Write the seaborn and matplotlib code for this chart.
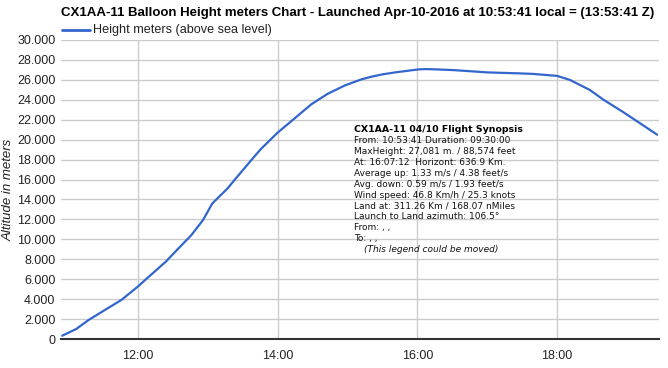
import matplotlib
matplotlib.use("Agg")
import matplotlib.pyplot as plt
import seaborn as sns
import pandas as pd
from matplotlib.ticker import FuncFormatter, FixedLocator

# ---- data ----
times = ["10:55", "11:07", "11:18", "11:32", "11:46", "12:00", "12:07", "12:16",
         "12:24", "12:35", "12:46", "12:56", "13:04", "13:17", "13:23", "13:40",
         "13:46", "14:00", "14:14", "14:29", "14:43", "14:58", "15:12", "15:20",
         "15:30", "15:41", "16:01", "16:07", "16:12", "16:31", "17:00", "17:28",
         "17:39", "18:00", "18:11", "18:28", "18:40", "18:56", "19:11", "19:26"]
heights = [330, 1000, 1930, 2930, 3930, 5260, 6000, 6930,
           7760, 9100, 10430, 11940, 13610, 15100, 15950, 18300,
           19100, 20700, 22070, 23550, 24600, 25450, 26050, 26300,
           26550, 26750, 27050, 27081, 27070, 26980, 26750, 26650,
           26600, 26400, 26000, 25000, 24000, 22830, 21670, 20500]
x_ticks = ["12:00", "14:00", "16:00", "18:00"]
y_ticks = list(range(0, 30001, 2000))
title = "CX1AA-11 Balloon Height meters Chart - Launched Apr-10-2016 at 10:53:41 local = (13:53:41 Z)"
series_name = "Height meters (above sea level)"
y_label = "Altitude in meters"
synopsis_title = "CX1AA-11 04/10 Flight Synopsis"
synopsis_lines = [
    "From: 10:53:41 Duration: 09:30:00",
    "MaxHeight: 27,081 m. / 88,574 feet",
    "At: 16:07:12  Horizont: 636.9 Km.",
    "Average up: 1.33 m/s / 4.38 feet/s",
    "Avg. down: 0.59 m/s / 1.93 feet/s",
    "Wind speed: 46.8 Km/h / 25.3 knots",
    "Land at: 311.26 Km / 168.07 nMiles",
    "Launch to Land azimuth: 106.5\u00b0",
    "From: , ,",
    "To: , ,",
]
synopsis_note = "(This legend could be moved)"


def to_hours(s):
    h, m = s.split(":")
    return int(h) + int(m) / 60.0


df = pd.DataFrame({"t": [to_hours(s) for s in times], "h": heights})

sns.set_theme(style="white")
plt.rcParams["font.family"] = ["Liberation Sans", "DejaVu Sans"]

fig = plt.figure(figsize=(6.68, 3.68), dpi=100)
ax = fig.add_axes([61 / 668, 1 - 339 / 368, 598 / 668, 299 / 368])

sns.lineplot(data=df, x="t", y="h", ax=ax, color="#3366cc", linewidth=1.6, label=series_name,
             legend=False)

ax.set_xlim(10.9, 19.46)
ax.set_ylim(0, 30000)
ax.xaxis.set_major_locator(FixedLocator([to_hours(s) for s in x_ticks]))
ax.xaxis.set_major_formatter(FuncFormatter(lambda v, p: f"{int(round(v)):02d}:00"))
ax.yaxis.set_major_locator(FixedLocator(y_ticks))
ax.yaxis.set_major_formatter(FuncFormatter(lambda v, p: "0" if v == 0 else f"{int(v):,}".replace(",", ".")))

ax.grid(True, color="#cccccc", linewidth=1.0)
ax.set_axisbelow(True)
for s in ["top", "right", "left"]:
    ax.spines[s].set_visible(False)
ax.spines["bottom"].set_color("#333333")
ax.spines["bottom"].set_linewidth(1.5)
ax.tick_params(axis="both", length=0, labelsize=9, colors="#222222")
ax.tick_params(axis="x", pad=8)
ax.tick_params(axis="y", pad=4)
ax.set_xlabel("")
ax.set_ylabel(y_label, fontsize=9.5, style="italic", color="#222222", labelpad=2)

# title and legend
fig.text(61 / 668, 1 - 13 / 368, title, fontsize=9.5, fontweight="bold", color="#000000",
         ha="left", va="center")
fig.lines.append(plt.Line2D([62 / 668, 90 / 668], [1 - 30 / 368, 1 - 30 / 368],
                            transform=fig.transFigure, color="#3366cc", linewidth=2))
fig.text(93 / 668, 1 - 30 / 368, series_name, fontsize=9.1, color="#222222", ha="left", va="center")

# synopsis box
x0 = 354 / 668
y0 = 130
dy = 10.85
fig.text(x0, 1 - y0 / 368, synopsis_title, fontsize=6.75, fontweight="bold", color="#000000",
         ha="left", va="center", family=["DejaVu Sans"])
for i, line in enumerate(synopsis_lines):
    fig.text(x0, 1 - (y0 + dy * (i + 1)) / 368, line, fontsize=6.5, color="#111111",
             ha="left", va="center", family=["DejaVu Sans"])
fig.text(364 / 668, 1 - (y0 + dy * 11) / 368, synopsis_note, fontsize=6.5, style="italic",
         color="#111111", ha="left", va="center", family=["DejaVu Sans"])

fig.savefig("out.png", dpi=100)
